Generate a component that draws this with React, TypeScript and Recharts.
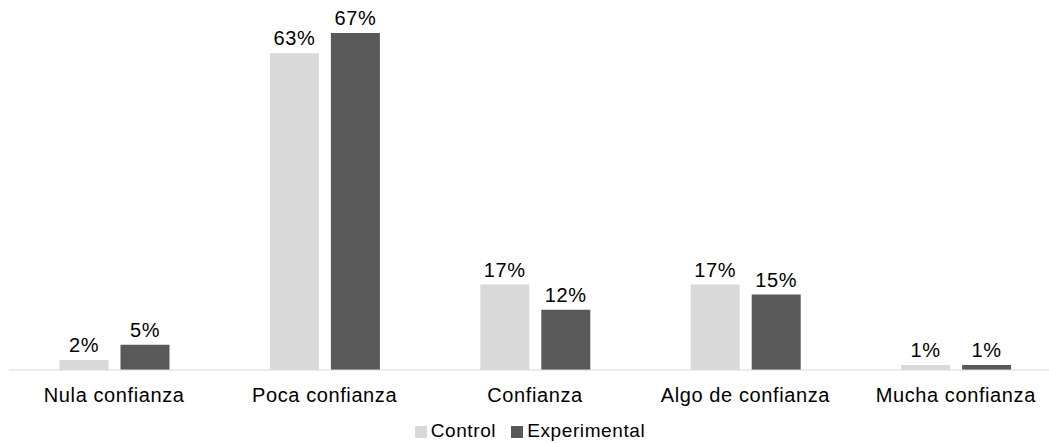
import React from "react";
import { BarChart, Bar, XAxis, YAxis, Legend, LabelList } from "recharts";

const categories = ["Nula confianza", "Poca confianza", "Confianza", "Algo de confianza", "Mucha confianza"];
const control = [2, 63, 17, 17, 1];
const experimental = [5, 67, 12, 15, 1];

const data = categories.map((name, i) => ({
  name,
  Control: control[i],
  Experimental: experimental[i]
}));

const font = "'Liberation Sans', Arial, sans-serif";
const labelStyle = { fill: "#000", fontSize: 20, fontFamily: font, letterSpacing: 0.6 };

export default function App() {
  return (
    <div style={{ position: "absolute", left: 0, top: 0, width: 1049, height: 443, overflow: "hidden", background: "#fff", fontFamily: font }}>
      <BarChart
        width={1061}
        height={443}
        data={data}
        margin={{ top: 18, right: 0, left: 9, bottom: 0 }}
        barCategoryGap="24%"
        barGap={12}
      >
        <XAxis
          dataKey="name"
          axisLine={{ stroke: "#d9d9d9", strokeWidth: 1 }}
          tickLine={false}
          tickSize={0}
          tickMargin={18}
          height={45}
          interval={0}
          tick={labelStyle}
        />
        <YAxis hide domain={[0, 70]} />
        <Legend
          verticalAlign="bottom"
          height={28}
          iconType="square"
          iconSize={12}
          wrapperStyle={{ fontSize: 19, fontFamily: font, letterSpacing: 0.6, bottom: -5 }}
          formatter={(value: string) => (
            <span style={{ color: "#000", marginRight: value === "Control" ? 5 : 0 }}>{value}</span>
          )}
        />
        <Bar dataKey="Control" fill="#d9d9d9" isAnimationActive={false}>
          <LabelList dataKey="Control" position="top" offset={8} formatter={(v: number) => `${v}%`} style={labelStyle} />
        </Bar>
        <Bar dataKey="Experimental" fill="#595959" isAnimationActive={false}>
          <LabelList dataKey="Experimental" position="top" offset={8} formatter={(v: number) => `${v}%`} style={labelStyle} />
        </Bar>
      </BarChart>
    </div>
  );
}
